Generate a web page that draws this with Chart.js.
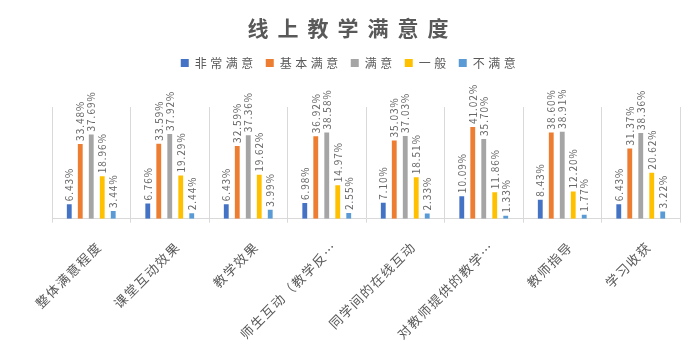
<!DOCTYPE html>
<html>
<head>
<meta charset="utf-8">
<script src="https://cdn.jsdelivr.net/npm/chart.js@4"></script>
<style>
  html, body { margin: 0; padding: 0; background: #fff; }
  #wrap { width: 700px; height: 347px; }
</style>
</head>
<body>
<div id="wrap"><canvas id="satisfactionChart"></canvas></div>
<script>
const chartTitle = "线上教学满意度";

const categories = [
  "整体满意程度",
  "课堂互动效果",
  "教学效果",
  "师生互动（教学反…",
  "同学间的在线互动",
  "对教师提供的教学…",
  "教师指导",
  "学习收获",
];

const seriesNames = ["非常满意", "基本满意", "满意", "一般", "不满意"];

const verysatisfied = [6.43, 6.76, 6.43, 6.98, 7.10, 10.09, 8.43, 6.43];
const basicallySatisfied = [33.48, 33.59, 32.59, 36.92, 35.03, 41.02, 38.60, 31.37];
const satisfied = [37.69, 37.92, 37.36, 38.58, 37.03, 35.70, 38.91, 38.36];
const average = [18.96, 19.29, 19.62, 14.97, 18.51, 11.86, 12.20, 20.62];
const unsatisfied = [3.44, 2.44, 3.99, 2.55, 2.33, 1.33, 1.77, 3.22];

const seriesColors = ["#4472C4", "#ED7D31", "#A5A5A5", "#FFC000", "#5B9BD5"];
const fontFamily = "'Noto Sans CJK SC', 'Noto Sans', sans-serif";

const allSeries = [verysatisfied, basicallySatisfied, satisfied, average, unsatisfied];

// the original text is widely spaced, so use letterSpacing and
// push the plot area down below the legend
const spacing = {
  id: "spacing",
  beforeInit(chart) {
    const legend = chart.legend;
    const fit = legend.fit;
    legend.fit = function () {
      chart.ctx.letterSpacing = "3.5px";
      fit.bind(legend)();
      chart.ctx.letterSpacing = "1.5px";
      this.height += 28;
    };
    const draw = legend.draw;
    legend.draw = function () {
      chart.ctx.letterSpacing = "3.5px";
      draw.apply(legend, arguments);
      chart.ctx.letterSpacing = "1.5px";
    };
  },
  beforeLayout(chart) {
    chart.ctx.letterSpacing = "1.5px";
  },
  beforeDraw(chart) {
    chart.ctx.letterSpacing = "1.5px";
  },
  afterDraw(chart) {
    chart.ctx.letterSpacing = "0px";
  },
};

// spaced-out title, one character at a time
const titleText = {
  id: "titleText",
  afterDraw(chart) {
    const ctx = chart.ctx;
    ctx.save();
    ctx.letterSpacing = "0px";
    ctx.font = "bold 21px " + fontFamily;
    ctx.fillStyle = "#595959";
    ctx.textAlign = "center";
    ctx.textBaseline = "middle";
    const pitch = 30;
    const chars = Array.from(chartTitle);
    const x0 = 348 - ((chars.length - 1) * pitch) / 2;
    chars.forEach((ch, i) => ctx.fillText(ch, x0 + i * pitch, 28));
    ctx.restore();
  },
};

// vertical value labels above each bar
const barLabels = {
  id: "barLabels",
  afterDatasetsDraw(chart) {
    const ctx = chart.ctx;
    ctx.save();
    ctx.letterSpacing = "1px";
    ctx.font = "10px " + fontFamily;
    ctx.fillStyle = "#666666";
    ctx.textAlign = "left";
    ctx.textBaseline = "middle";
    chart.data.datasets.forEach((ds, i) => {
      const meta = chart.getDatasetMeta(i);
      meta.data.forEach((bar, j) => {
        ctx.save();
        ctx.translate(bar.x, bar.y - 3);
        ctx.rotate(-Math.PI / 2);
        ctx.fillText(ds.data[j].toFixed(2) + "%", 0, 0);
        ctx.restore();
      });
    });
    ctx.restore();
  },
};

const ctx = document.getElementById("satisfactionChart").getContext("2d");

new Chart(ctx, {
  type: "bar",
  data: {
    labels: categories,
    datasets: seriesNames.map((name, i) => ({
      label: name,
      data: allSeries[i],
      backgroundColor: seriesColors[i],
      categoryPercentage: 0.7,
      barPercentage: 0.44,
    })),
  },
  options: {
    responsive: true,
    maintainAspectRatio: false,
    animation: false,
    layout: {
      padding: { left: 20, right: 20, top: 48, bottom: -11 },
    },
    plugins: {
      title: { display: false },
      legend: {
        position: "top",
        labels: {
          boxWidth: 8,
          boxHeight: 8,
          color: "#595959",
          padding: 9,
          font: { family: fontFamily, size: 12 },
        },
      },
      tooltip: { enabled: false },
    },
    scales: {
      x: {
        offset: true,
        grid: {
          display: true,
          offset: true,
          color: "#d9d9d9",
          tickLength: 4,
        },
        border: { color: "#d9d9d9" },
        ticks: {
          color: "#595959",
          maxRotation: 45,
          minRotation: 45,
          autoSkip: false,
          padding: 16,
          labelOffset: 8,
          font: { family: fontFamily, size: 13 },
        },
      },
      y: {
        display: true,
        min: 0,
        max: 50,
        afterFit(scale) {
          scale.width = 32;
        },
        ticks: { display: false },
        grid: { display: false },
        border: { display: false },
      },
    },
  },
  plugins: [spacing, titleText, barLabels],
});
</script>
</body>
</html>
